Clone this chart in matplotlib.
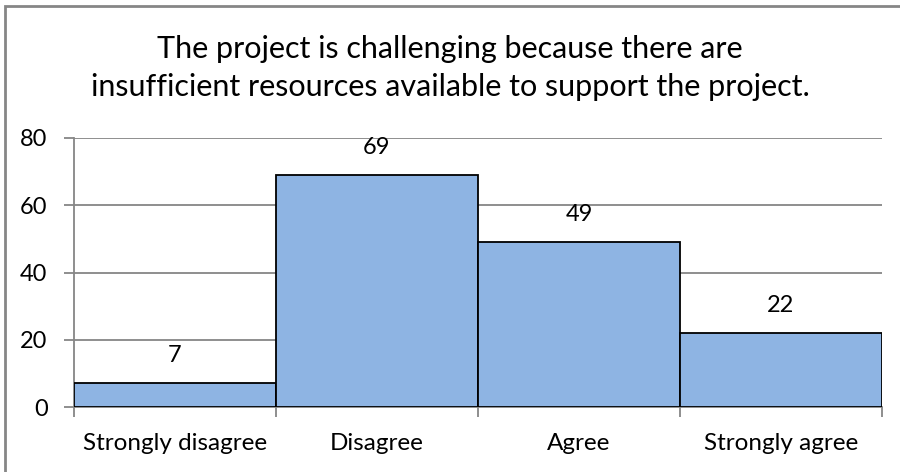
import matplotlib.pyplot as plt
from matplotlib.patches import Rectangle

# Данные
categories = ['Strongly disagree', 'Disagree', 'Agree', 'Strongly agree']
values = [7, 69, 49, 22]
title = 'The project is challenging because there are\ninsufficient resources available to support the project.'

plt.rcParams['font.family'] = ['Lato', 'DejaVu Sans']

fig = plt.figure(figsize=(9, 4.72), dpi=100)
ax = fig.add_axes([74/900, 1 - 407/472, (882-74)/900, (407-138)/472])

x = range(len(values))
ax.bar(x, values, width=1.0, color='#8EB4E3', edgecolor='black', linewidth=1.3, zorder=3)
for i, v in enumerate(values):
    ax.text(i, v + 8.3, str(v), ha='center', va='center', fontsize=17, color='black')

ax.set_xlim(-0.5, len(values) - 0.5)
ax.set_ylim(0, 80)
ax.set_yticks([0, 20, 40, 60, 80])
ax.set_xticks([i - 0.5 for i in range(len(values) + 1)])
ax.set_xticklabels([])
ax.set_xticks(list(x), minor=True)
ax.set_xticklabels(categories, minor=True, fontsize=17.5)
ax.tick_params(axis='x', which='minor', length=0, pad=19)
ax.tick_params(axis='x', which='major', length=7, color='#868686', width=1.3)
ax.tick_params(axis='y', length=7, color='#868686', width=1.3, labelsize=17, pad=12)
ax.grid(axis='y', color='#868686', linewidth=1.3, zorder=0)
for s in ['top', 'right']:
    ax.spines[s].set_visible(False)
for s in ['left', 'bottom']:
    ax.spines[s].set_color('#868686')
    ax.spines[s].set_linewidth(1.3)

fig.text(0.5, 1 - 68/472, title, ha='center', va='center', fontsize=22, linespacing=1.45)

# рамка вокруг диаграммы
fig.patches.append(Rectangle((4.5/900, -0.1), 1.1, 1 - 5.5/472 + 0.1, transform=fig.transFigure,
                             fill=False, edgecolor='#868686', linewidth=2))

plt.savefig('out.png', dpi=100)
